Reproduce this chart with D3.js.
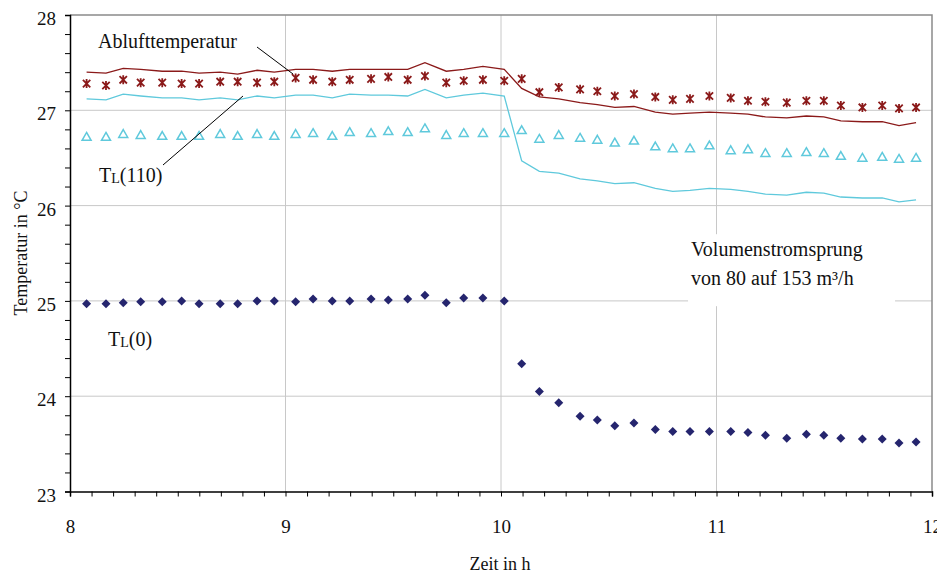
<!DOCTYPE html>
<html>
<head>
<meta charset="utf-8">
<script src="https://cdn.jsdelivr.net/npm/d3@7"></script>
<style>
  body { margin: 0; background: #fff; }
  text { font-family: "Liberation Serif", "Times New Roman", serif; fill: #111; }
</style>
</head>
<body>
<div class="chart"></div>
<script>
// data (time in h, temperatures in °C)
let hours = [8.077, 8.167, 8.247, 8.328, 8.428, 8.518, 8.599, 8.697, 8.778, 8.868, 8.948,
  9.047, 9.128, 9.217, 9.298, 9.397, 9.477, 9.567, 9.647, 9.746, 9.827, 9.916, 10.015,
  10.096, 10.178, 10.268, 10.367, 10.447, 10.528, 10.617, 10.716, 10.797, 10.877, 10.967,
  11.066, 11.146, 11.227, 11.326, 11.417, 11.498, 11.577, 11.677, 11.769, 11.847, 11.926];

let abluftLine = [27.40, 27.39, 27.44, 27.43, 27.41, 27.41, 27.39, 27.40, 27.38, 27.42, 27.40,
  27.43, 27.43, 27.41, 27.43, 27.43, 27.43, 27.43, 27.50, 27.41, 27.43, 27.46, 27.43,
  27.23, 27.14, 27.12, 27.08, 27.06, 27.03, 27.04, 26.98, 26.96, 26.97, 26.98,
  26.97, 26.96, 26.93, 26.92, 26.94, 26.93, 26.89, 26.88, 26.88, 26.84, 26.87];

let abluftStars = [27.28, 27.26, 27.32, 27.29, 27.29, 27.28, 27.28, 27.30, 27.30, 27.29, 27.30,
  27.34, 27.32, 27.30, 27.32, 27.33, 27.35, 27.32, 27.36, 27.29, 27.31, 27.32, 27.31,
  27.33, 27.19, 27.24, 27.22, 27.20, 27.15, 27.17, 27.14, 27.11, 27.12, 27.15,
  27.13, 27.10, 27.09, 27.08, 27.10, 27.10, 27.05, 27.03, 27.05, 27.02, 27.03];

let tl110Line = [27.12, 27.11, 27.17, 27.15, 27.13, 27.13, 27.11, 27.13, 27.11, 27.15, 27.13,
  27.16, 27.16, 27.13, 27.17, 27.16, 27.16, 27.15, 27.22, 27.13, 27.16, 27.18, 27.15,
  26.47, 26.36, 26.34, 26.28, 26.26, 26.23, 26.24, 26.18, 26.15, 26.16, 26.18,
  26.17, 26.15, 26.12, 26.11, 26.14, 26.13, 26.09, 26.08, 26.08, 26.04, 26.06];

let tl110Tri = [26.72, 26.72, 26.75, 26.74, 26.73, 26.73, 26.73, 26.75, 26.73, 26.75, 26.73,
  26.75, 26.76, 26.73, 26.77, 26.76, 26.78, 26.77, 26.81, 26.74, 26.76, 26.76, 26.76,
  26.79, 26.70, 26.74, 26.71, 26.69, 26.66, 26.68, 26.62, 26.60, 26.60, 26.63,
  26.58, 26.59, 26.55, 26.55, 26.56, 26.55, 26.52, 26.50, 26.51, 26.49, 26.50];

let tl0 = [24.97, 24.97, 24.98, 24.99, 24.99, 25.00, 24.97, 24.97, 24.97, 25.00, 25.00,
  24.99, 25.02, 25.00, 25.00, 25.02, 25.01, 25.02, 25.06, 24.98, 25.03, 25.03, 25.00,
  24.34, 24.05, 23.93, 23.79, 23.75, 23.69, 23.72, 23.65, 23.63, 23.63, 23.63,
  23.63, 23.62, 23.59, 23.56, 23.60, 23.59, 23.56, 23.55, 23.55, 23.51, 23.52];

let xTicks = [8, 9, 10, 11, 12];
let yTicks = [23, 24, 25, 26, 27, 28];
let xLabel = "Zeit in h";
let yLabel = "Temperatur in °C";
let noteLines = ["Volumenstromsprung", "von 80 auf 153 m³/h"];

let svgWidth = 937;
let svgHeight = 574;

let margin = { top: 15, right: 5, bottom: 82.5, left: 70 };

let width = svgWidth - margin.left - margin.right;
let height = svgHeight - margin.top - margin.bottom;

let svg = d3.select(".chart")
  .append("svg")
  .attr("width", svgWidth)
  .attr("height", svgHeight);

let chartGroup = svg.append("g")
  .attr("transform", `translate(${margin.left}, ${margin.top})`);

// scales
let xScale = d3.scaleLinear().domain([8, 12]).range([0, width]);
let yScale = d3.scaleLinear().domain([23, 28]).range([height, 0]);

// gridlines
chartGroup.append("g")
  .selectAll("line")
  .data(yTicks.slice(1, -1))
  .enter()
  .append("line")
  .attr("x1", 0).attr("x2", width)
  .attr("y1", d => yScale(d)).attr("y2", d => yScale(d))
  .attr("stroke", "#c8c8c8");

chartGroup.append("g")
  .selectAll("line")
  .data(xTicks.slice(1, -1))
  .enter()
  .append("line")
  .attr("x1", d => xScale(d)).attr("x2", d => xScale(d))
  .attr("y1", 0).attr("y2", height)
  .attr("stroke", "#c8c8c8");

// plot border, top and right
chartGroup.append("path")
  .attr("d", `M0,0H${width}V${height}`)
  .attr("fill", "none")
  .attr("stroke", "#8a8a8a")
  .attr("stroke-width", 1.5);

// white box behind the note
chartGroup.append("rect")
  .attr("x", xScale(10.868))
  .attr("y", yScale(25.7))
  .attr("width", 207)
  .attr("height", 72)
  .attr("fill", "#fff");

// axes
let minorX = d3.range(80, 121).map(d => d / 10);
let minorY = d3.range(115, 141).map(d => d / 5);

let bottomAxis = d3.axisBottom(xScale)
  .tickValues(minorX)
  .tickSize(5)
  .tickFormat(d => xTicks.includes(d) ? d : "")
  .tickPadding(23);

let leftAxis = d3.axisLeft(yScale)
  .tickValues(minorY)
  .tickSize(5)
  .tickFormat(d => yTicks.includes(d) ? d : "")
  .tickPadding(9);

let xAxisG = chartGroup.append("g")
  .attr("transform", `translate(0, ${height})`)
  .call(bottomAxis);

let yAxisG = chartGroup.append("g")
  .call(leftAxis);

[xAxisG, yAxisG].forEach(g => {
  g.select(".domain").attr("stroke", "#000").attr("stroke-width", 1.5);
  g.selectAll(".tick line").attr("stroke", "#000");
  g.selectAll(".tick text")
    .style("font-family", "'Liberation Serif', 'Times New Roman', serif")
    .style("font-size", "19px")
    .attr("fill", "#111");
});
yAxisG.selectAll(".tick text").attr("dy", "0.5em");

// lines
let line = d3.line()
  .x((d, i) => xScale(hours[i]))
  .y(d => yScale(d));

chartGroup.append("path")
  .datum(abluftLine)
  .attr("d", line)
  .attr("fill", "none")
  .attr("stroke", "#8b1a1a")
  .attr("stroke-width", 1.3);

chartGroup.append("path")
  .datum(tl110Line)
  .attr("d", line)
  .attr("fill", "none")
  .attr("stroke", "#5fc9dc")
  .attr("stroke-width", 1.3);

// markers
let starPath = "M-3.7,-3.7L3.7,3.7M-3.7,3.7L3.7,-3.7M0,-4.5L0,4.5";
let triPath = "M0,-4.5L4.5,3.3L-4.5,3.3Z";
let diaPath = "M0,-4.5L4.5,0L0,4.5L-4.5,0Z";

chartGroup.append("g")
  .selectAll("path")
  .data(abluftStars)
  .enter()
  .append("path")
  .attr("transform", (d, i) => `translate(${xScale(hours[i])}, ${yScale(d)})`)
  .attr("d", starPath)
  .attr("fill", "none")
  .attr("stroke", "#8b1a1a")
  .attr("stroke-width", 1.8);

chartGroup.append("g")
  .selectAll("path")
  .data(tl110Tri)
  .enter()
  .append("path")
  .attr("transform", (d, i) => `translate(${xScale(hours[i])}, ${yScale(d)})`)
  .attr("d", triPath)
  .attr("fill", "#fff")
  .attr("stroke", "#5fc9dc")
  .attr("stroke-width", 1.5);

chartGroup.append("g")
  .selectAll("path")
  .data(tl0)
  .enter()
  .append("path")
  .attr("transform", (d, i) => `translate(${xScale(hours[i])}, ${yScale(d)})`)
  .attr("d", diaPath)
  .attr("fill", "#25256e");

// annotations (in page pixels)
svg.append("line")
  .attr("x1", 257).attr("y1", 47).attr("x2", 293).attr("y2", 74)
  .attr("stroke", "#000");

svg.append("line")
  .attr("x1", 163).attr("y1", 165).attr("x2", 243).attr("y2", 96)
  .attr("stroke", "#000");

svg.append("text")
  .attr("x", 98).attr("y", 48)
  .style("font-size", "20px")
  .text("Ablufttemperatur");

function tlLabel(x, y, arg) {
  let t = svg.append("text")
    .attr("x", x).attr("y", y)
    .style("font-size", "20px");
  t.append("tspan").text("T");
  t.append("tspan").attr("dy", 1).style("font-size", "14px").text("L");
  t.append("tspan").attr("dy", -1).text(arg);
}
tlLabel(99, 182, "(110)");
tlLabel(108, 346, "(0)");

svg.append("g")
  .selectAll("text")
  .data(noteLines)
  .enter()
  .append("text")
  .attr("x", 691)
  .attr("y", (d, i) => 256 + i * 29)
  .style("font-size", "20px")
  .text(d => d);

// axis labels
svg.append("text")
  .attr("x", 500).attr("y", 570)
  .attr("text-anchor", "middle")
  .style("font-size", "18px")
  .text(xLabel);

svg.append("text")
  .attr("transform", "translate(27, 253) rotate(-90)")
  .attr("text-anchor", "middle")
  .style("font-size", "18px")
  .text(yLabel);
</script>
</body>
</html>
